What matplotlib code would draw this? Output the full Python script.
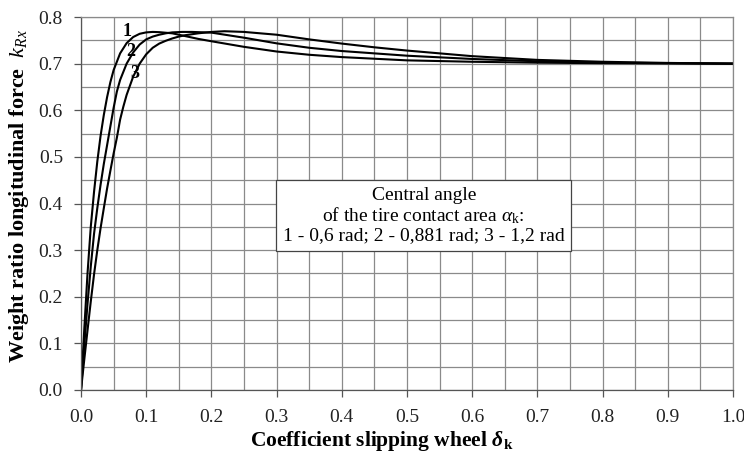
import matplotlib
matplotlib.use('Agg')
import matplotlib.pyplot as plt
import numpy as np

plt.rcParams['font.family'] = ['Liberation Serif', 'DejaVu Serif']
plt.rcParams['mathtext.fontset'] = 'custom'
plt.rcParams['mathtext.rm'] = 'Liberation Serif'
plt.rcParams['mathtext.it'] = 'Liberation Serif:italic'
plt.rcParams['mathtext.bf'] = 'Liberation Serif:bold'
plt.rcParams['mathtext.bfit'] = 'Liberation Serif:italic:bold'

# values
delta_1 = [0, 0.005, 0.01, 0.015, 0.02, 0.025, 0.03, 0.035, 0.04, 0.045, 0.05,
           0.06, 0.07, 0.08, 0.09, 0.10, 0.11, 0.12, 0.14, 0.16, 0.18, 0.20,
           0.25, 0.30, 0.35, 0.40, 0.50, 0.60, 0.70, 0.80, 0.90, 1.00]
k_1 = [0, 0.13, 0.25, 0.35, 0.425, 0.49, 0.545, 0.59, 0.628, 0.66, 0.686,
       0.722, 0.744, 0.757, 0.764, 0.767, 0.768, 0.7675, 0.765, 0.759, 0.753, 0.748,
       0.736, 0.726, 0.719, 0.714, 0.707, 0.704, 0.702, 0.701, 0.7005, 0.700]

delta_2 = [0, 0.005, 0.01, 0.015, 0.02, 0.025, 0.03, 0.035, 0.04, 0.045, 0.05,
           0.055, 0.06, 0.07, 0.08, 0.09, 0.10, 0.11, 0.12, 0.13, 0.14, 0.155,
           0.17, 0.20, 0.25, 0.30, 0.35, 0.40, 0.45, 0.50, 0.60, 0.70, 0.80,
           0.90, 1.00]
k_2 = [0, 0.095, 0.185, 0.265, 0.335, 0.39, 0.44, 0.485, 0.525, 0.565, 0.605,
       0.64, 0.665, 0.70, 0.724, 0.741, 0.752, 0.758, 0.762, 0.765, 0.767, 0.768,
       0.768, 0.7665, 0.7556, 0.7435, 0.734, 0.727, 0.722, 0.717, 0.710, 0.705, 0.702,
       0.701, 0.700]

delta_3 = [0, 0.005, 0.01, 0.015, 0.02, 0.025, 0.03, 0.035, 0.04, 0.045, 0.05,
           0.055, 0.06, 0.065, 0.07, 0.08, 0.09, 0.10, 0.11, 0.12, 0.13, 0.14,
           0.15, 0.16, 0.18, 0.20, 0.22, 0.25, 0.30, 0.35, 0.40, 0.45, 0.50,
           0.60, 0.70, 0.80, 0.90, 1.00]
k_3 = [0, 0.065, 0.128, 0.19, 0.248, 0.30, 0.347, 0.39, 0.432, 0.47, 0.507,
       0.541, 0.58, 0.608, 0.633, 0.672, 0.70, 0.72, 0.734, 0.743, 0.749, 0.754,
       0.758, 0.761, 0.765, 0.768, 0.7695, 0.768, 0.762, 0.752, 0.743, 0.735, 0.728,
       0.716, 0.708, 0.704, 0.7015, 0.700]

curve_labels = ['1', '2', '3']
label_pos = [(0.070, 0.768), (0.077, 0.725), (0.083, 0.679)]

fig = plt.figure(figsize=(7.44, 4.55), dpi=100)
ax = fig.add_axes([81 / 744, 1 - 390 / 455, 652 / 744, 373 / 455])

for d, k in [(delta_1, k_1), (delta_2, k_2), (delta_3, k_3)]:
    ax.plot(d, k, color='black', lw=1.5, solid_joinstyle='round')

for lab, (x, y) in zip(curve_labels, label_pos):
    ax.text(x, y, lab, fontsize=13, fontweight='bold', ha='center', va='center')

ax.set_xlim(0, 1.0)
ax.set_ylim(0, 0.8)
ax.set_xticks(np.arange(0, 1.01, 0.1))
ax.set_yticks(np.arange(0, 0.81, 0.1))
ax.set_xticks(np.arange(0.05, 1.0, 0.1), minor=True)
ax.set_yticks(np.arange(0.05, 0.8, 0.1), minor=True)
ax.xaxis.set_major_formatter(matplotlib.ticker.FormatStrFormatter('%.1f'))
ax.yaxis.set_major_formatter(matplotlib.ticker.FormatStrFormatter('%.1f'))
ax.tick_params(which='major', length=5, width=0.9, color='#555555',
               labelsize=14, labelcolor='#222222')
ax.tick_params(axis='x', which='major', pad=9)
ax.tick_params(axis='y', which='major', pad=8)
ax.tick_params(which='minor', length=0)
ax.grid(which='both', color='#8a8a8a', lw=0.9)
ax.set_axisbelow(True)
for s in ax.spines.values():
    s.set_color('#8a8a8a')
    s.set_linewidth(0.9)
ax.spines['left'].set_color('#555555')
ax.spines['bottom'].set_color('#555555')

ax.set_xlabel(r'Coefficient slipping wheel $\mathbfit{\delta}_{\mathbf{k}}$',
              fontsize=15.5, fontweight='bold')
ax.set_ylabel(r'Weight ratio longitudinal force  $k_{Rx}$',
              fontsize=16, fontweight='bold')
ax.xaxis.set_label_coords(0.462, -0.104)
ax.yaxis.set_label_coords(-0.077, 0.52)

ax.text(0.5256, 0.374,
        'Central angle\n'
        r'of the tire contact area $\alpha_{\mathrm{k}}$:' '\n'
        '1 - 0,6 rad; 2 - 0,881 rad; 3 - 1,2 rad',
        fontsize=14, ha='center', va='center', multialignment='center',
        linespacing=1.1,
        bbox=dict(boxstyle='square,pad=0.35', facecolor='white',
                  edgecolor='#444444', lw=0.9))

fig.savefig('out.png', dpi=100)
